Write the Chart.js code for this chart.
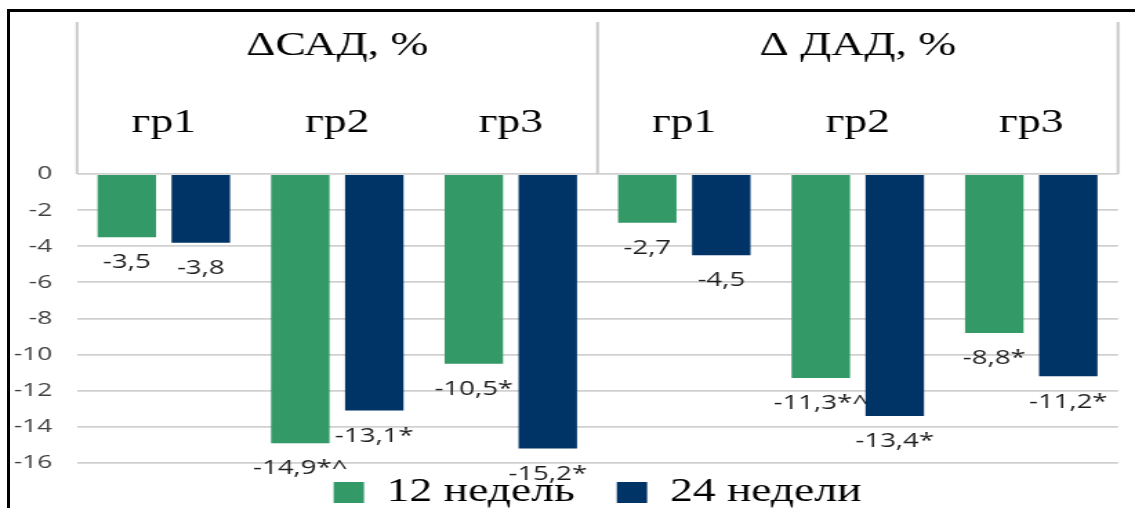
<!DOCTYPE html>
<html><head><meta charset="utf-8">
<script src="https://cdn.jsdelivr.net/npm/chart.js@4/dist/chart.umd.min.js"></script>
<style>
html,body{margin:0;padding:0;background:#fff;width:1135px;height:508px;overflow:hidden;}
#wrap{position:relative;width:1135px;height:508px;overflow:hidden;background:#fff;}
#c{position:absolute;left:0;top:0;transform-origin:0 0;transform:scaleX(1.38078);}
#frame{position:absolute;left:7px;top:9px;width:1300px;height:700px;border-top:3px solid #000;border-left:3px solid #000;box-sizing:border-box;pointer-events:none;}
</style></head><body>
<div id="wrap"><canvas id="c" width="822" height="508"></canvas><div id="frame"></div></div>
<script>
// ---- data ----
const groups = ['ΔСАД, %', 'Δ ДАД, %'];
const subgroups = ['гр1', 'гр2', 'гр3'];
const seriesNames = ['12 недель', '24 недели'];
const weeks12 = [-3.5, -14.9, -10.5, -2.7, -11.3, -8.8];
const weeks24 = [-3.8, -13.1, -15.2, -4.5, -13.4, -11.2];
const marks12 = ['', '*^', '*', '', '*^', '*'];
const marks24 = ['', '*', '*', '', '*', '*'];
const yMin = -16, yMax = 0, yStep = 2;

// ---- derived labels ----
const categoryLabels = [];
const groupLabels = [];
groups.forEach(g => subgroups.forEach((s, si) => {
  categoryLabels.push(s);
  groupLabels.push(si === Math.floor(subgroups.length / 2) ? g : '');
}));

const fmt = v => v.toFixed(1).replace('.', ',');
const SERIF = "'Liberation Serif', 'Times New Roman', serif";

Chart.defaults.font.family = SERIF;
Chart.defaults.font.size = 33;
Chart.defaults.color = '#000000';

const LEGEND_PAD = 30.5;

const headerBox = {
  id: 'headerBox',
  afterDraw(chart) {
    const ctx = chart.ctx, a = chart.chartArea, x = chart.scales.x, x2 = chart.scales.x2;
    const n = subgroups.length;
    const xs = [a.left];
    for (let g = 1; g < groups.length; g++) {
      xs.push((x.getPixelForValue(g * n - 1) + x.getPixelForValue(g * n)) / 2);
    }
    xs.push(a.right);
    ctx.save();
    ctx.strokeStyle = '#c9c9c9';
    ctx.lineWidth = 2;
    xs.forEach(px => { ctx.beginPath(); ctx.moveTo(px, x2.top); ctx.lineTo(px, a.top); ctx.stroke(); });
    ctx.restore();
  }
};

const valueLabels = {
  id: 'valueLabels',
  afterDatasetsDraw(chart) {
    const ctx = chart.ctx;
    ctx.save();
    ctx.font = "20px 'Open Sans', sans-serif";
    ctx.fillStyle = '#1e1e1e';
    ctx.textAlign = 'center';
    ctx.textBaseline = 'middle';
    chart.data.datasets.forEach((ds, di) => {
      const meta = chart.getDatasetMeta(di);
      meta.data.forEach((bar, i) => {
        ctx.fillText(fmt(ds.data[i]) + ds.marks[i], bar.x, bar.y + 25.5);
      });
    });
    ctx.restore();
  }
};

const legendShift = {
  id: 'legendShift',
  afterLayout(chart) {
    const L = chart.legend;
    if (L) { L.top = chart.chartArea.bottom + 13 - LEGEND_PAD; }
  }
};

new Chart(document.getElementById('c'), {
  type: 'bar',
  data: {
    labels: categoryLabels,
    datasets: [
      { label: seriesNames[0], data: weeks12, marks: marks12, backgroundColor: '#339966', borderWidth: 0,
        categoryPercentage: 0.853, barPercentage: 0.79 },
      { label: seriesNames[1], data: weeks24, marks: marks24, backgroundColor: '#003366', borderWidth: 0,
        categoryPercentage: 0.853, barPercentage: 0.79 }
    ]
  },
  options: {
    responsive: false,
    devicePixelRatio: 1,
    animation: false,
    font: { family: SERIF, size: 33 },
    layout: { padding: { top: 22, left: 0, right: 12.3, bottom: 0 } },
    plugins: {
      tooltip: { enabled: false },
      legend: {
        position: 'bottom',
        fullSize: false,
        maxHeight: 45,
        labels: {
          font: { family: SERIF, size: 33, lineHeight: 1.2 },
          color: '#000000',
          boxWidth: 22,
          boxHeight: 21,
          padding: LEGEND_PAD
        }
      }
    },
    scales: {
      x: {
        type: 'category',
        position: 'top',
        offset: true,
        weight: 0,
        grid: { display: false },
        border: { display: false },
        ticks: {
          font: { family: SERIF, size: 33, lineHeight: 1.2 },
          color: '#000000',
          padding: 23,
          autoSkip: false,
          maxRotation: 0
        },
        afterFit(s) { s.height = 90; }
      },
      x2: {
        type: 'category',
        position: 'top',
        labels: groupLabels,
        offset: true,
        weight: 1,
        grid: { display: false },
        border: { display: false },
        ticks: {
          font: { family: SERIF, size: 33, lineHeight: 1.2 },
          color: '#000000',
          padding: 10,
          autoSkip: false,
          maxRotation: 0
        },
        afterFit(s) { s.height = 62; }
      },
      y: {
        min: yMin,
        max: yMax,
        ticks: {
          stepSize: yStep,
          font: { family: "'Open Sans', sans-serif", size: 19 },
          color: '#404040',
          padding: 18
        },
        grid: { color: '#d0d0d0', lineWidth: 1.8, drawTicks: false },
        border: { display: false },
        afterFit(s) { s.width = 55.8; }
      }
    }
  },
  plugins: [headerBox, valueLabels, legendShift]
});
</script>
</body></html>
